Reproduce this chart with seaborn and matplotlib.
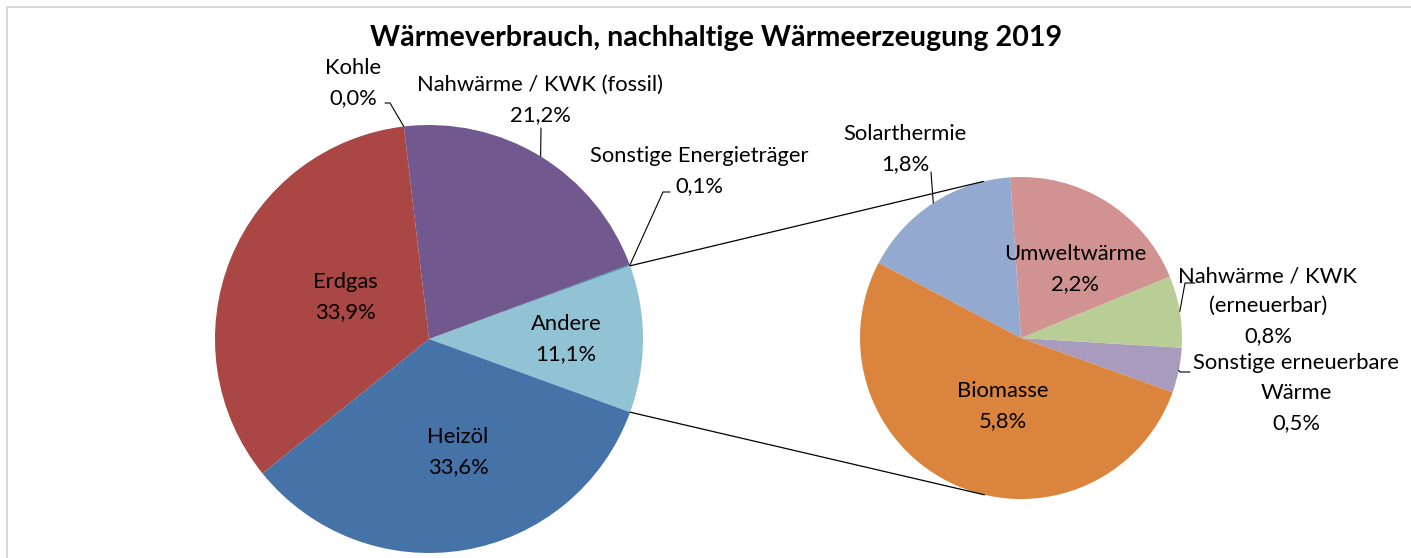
import numpy as np
import matplotlib
matplotlib.use("Agg")
import matplotlib.pyplot as plt
import seaborn as sns

# main pie (counter-clockwise, starting at the "Andere" wedge)
main_labels = ["Andere", "Sonstige Energieträger", "Nahwärme / KWK (fossil)",
               "Kohle", "Erdgas", "Heizöl"]
main_values = [11.1, 0.1, 21.2, 0.0, 33.9, 33.6]
main_colors = ["#91C3D5", "#4198AF", "#71588F", "#89A54E", "#AA4643", "#4572A7"]

# secondary pie: breakdown of "Andere"
sub_labels = ["Sonstige erneuerbare\nWärme", "Nahwärme / KWK\n(erneuerbar)",
              "Umweltwärme", "Solarthermie", "Biomasse"]
sub_values = [0.5, 0.8, 2.2, 1.8, 5.8]
sub_colors = ["#A99BBD", "#B9CD96", "#D19392", "#93A9CF", "#DB843D"]

title = "Wärmeverbrauch, nachhaltige Wärmeerzeugung 2019"

W, H = 1411, 558


def fmt(v):
    return f"{v:.1f}".replace(".", ",") + "%"


def px(x, y):
    # picture pixel position -> data coords (y up)
    return x, H - y


def edge_point(center, r, ang):
    a = np.deg2rad(ang)
    return center[0] + r * np.cos(a), center[1] + r * np.sin(a)


def wedge_angles(values, start):
    total = sum(values)
    angs = []
    a = start
    for v in values:
        span = v / total * 360
        angs.append((a, a + span))
        a += span
    return angs


sns.set_theme(style="white")
plt.rcParams['font.family'] = ['Lato', 'DejaVu Sans']

fig = plt.figure(figsize=(W / 100, H / 100), dpi=100)
ax = fig.add_axes([0, 0, 1, 1])

c_main, r_main = px(429, 339), 214
c_sub, r_sub = px(1021, 338), 161
start_main = -main_values[0] / sum(main_values) * 360 / 2
start_sub = -19.7

ax.pie(main_values, colors=main_colors, startangle=start_main, counterclock=True,
       center=c_main, radius=r_main, wedgeprops=dict(linewidth=0))
ax.pie(sub_values, colors=sub_colors, startangle=start_sub, counterclock=True,
       center=c_sub, radius=r_sub, wedgeprops=dict(linewidth=0))

ax.set_xlim(0, W)
ax.set_ylim(0, H)
ax.set_aspect('equal')
ax.axis('off')

# connector lines: tangents from the edges of "Andere" to the secondary pie
main_ang = wedge_angles(main_values, start_main)
for ang, sign in [(main_ang[0][1], -1), (main_ang[0][0], 1)]:
    p = np.array(edge_point(c_main, r_main, ang))
    d = p - np.array(c_sub)
    theta = np.degrees(np.arctan2(d[1], d[0]))
    alpha = np.degrees(np.arccos(r_sub / np.hypot(*d)))
    q = edge_point(c_sub, r_sub, theta + sign * alpha)
    ax.plot([p[0], q[0]], [p[1], q[1]], color="black", lw=0.9)

fs = 15.8
ls = 1.6

# labels inside wedges
inside = [
    ("Erdgas", 33.9, (345, 297)),
    ("Heizöl", 33.6, (458, 452)),
    ("Andere", 11.1, (566, 339)),
    ("Umweltwärme", 2.2, (1075, 269)),
    ("Biomasse", 5.8, (1003, 406)),
]
for name, v, (x, y) in inside:
    ax.text(*px(x, y), f"{name}\n{fmt(v)}", ha="center", va="center",
            fontsize=fs, linespacing=ls, color="black")

# outside labels with leader lines: (label, value, text pos, elbow/stub points, wedge)
sub_ang = wedge_angles(sub_values, start_sub)
outside = [
    ("Kohle", 0.0, (353, 83), [(385, 103), (390, 103)], ("m", 3)),
    ("Nahwärme / KWK (fossil)", 21.2, (540, 100), [(541, 128)], ("m", 2)),
    ("Sonstige Energieträger", 0.1, (699, 171), [(670, 192), (663, 192)], ("m", 1)),
    ("Solarthermie", 1.8, (905, 149), [(931, 172)], ("s", 3)),
    ("Nahwärme / KWK\n(erneuerbar)", 0.8, (1268, 306), [(1195, 283), (1185, 283)], ("s", 1)),
    ("Sonstige erneuerbare\nWärme", 0.5, (1296, 393), [(1190, 372), (1180, 372)], ("s", 0)),
]
for name, v, (x, y), pts, (which, idx) in outside:
    ax.text(*px(x, y), f"{name}\n{fmt(v)}", ha="center", va="center",
            fontsize=fs, linespacing=ls, color="black")
    if which == "m":
        a0, a1 = main_ang[idx]
        anchor = edge_point(c_main, r_main, (a0 + a1) / 2)
    else:
        a0, a1 = sub_ang[idx]
        anchor = edge_point(c_sub, r_sub, (a0 + a1) / 2)
    xs = [px(*p)[0] for p in pts] + [anchor[0]]
    ys = [px(*p)[1] for p in pts] + [anchor[1]]
    ax.plot(xs, ys, color="black", lw=0.8)

ax.text(*px(716, 38), title, ha="center", va="center",
        fontsize=20.6, fontweight="bold", color="black")

# light chart frame (top and left edge)
ax.plot([7, 7, W], [0, H - 7, H - 7], color="#d9d9d9", lw=1.5)

fig.savefig("out.png", dpi=100)
